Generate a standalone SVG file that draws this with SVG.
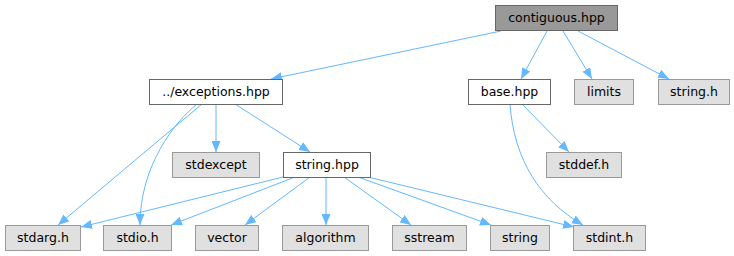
<svg xmlns="http://www.w3.org/2000/svg" width="734" height="256" viewBox="0 0 734 256">
<defs>
<style>
.n rect{stroke-width:1}
.root rect{fill:#999999;stroke:#666666}
.loc rect{fill:#ffffff;stroke:#666666}
.ext rect{fill:#e0e0e0;stroke:#999999}
text{font-family:"DejaVu Sans",sans-serif;font-size:12.5px;fill:#000000;text-anchor:middle}
.e path{fill:none;stroke:#63b8ff;stroke-width:1;marker-end:url(#ah)}
</style>
<marker id="ah" markerUnits="userSpaceOnUse" markerWidth="12" markerHeight="9" refX="11" refY="4.5" orient="auto">
<path d="M0,0 L11,4.5 L0,9 z" fill="#63b8ff" stroke="none"/>
</marker>
</defs>
<rect width="734" height="256" fill="#ffffff"/>
<g id="edges" class="e">
<path d="M501,31 L271,79"/>
<path d="M547,31 L521,79"/>
<path d="M563,31 L592,79"/>
<path d="M578,31 L669,79"/>
<path d="M202,104 L58,225"/>
<path d="M197,104 C175,122 140,165 140,225"/>
<path d="M216,104 L216,152"/>
<path d="M235,104 L310,152"/>
<path d="M522,104 L569,152"/>
<path d="M510,104 C514,160 540,200 583,225"/>
<path d="M283,177 L81,227"/>
<path d="M295,177 L171,225"/>
<path d="M310,177 L245,225"/>
<path d="M326,177 L326,225"/>
<path d="M344,177 L411,225"/>
<path d="M358,177 L491,225"/>
<path d="M368,177 L574,227"/>
</g>
<g id="contiguous" class="n root"><rect x="495.5" y="5.5" width="122" height="25"/><text x="556.5" y="22">contiguous.hpp</text></g>
<g id="exceptions" class="n loc"><rect x="149.5" y="79.5" width="133" height="25"/><text x="216" y="96">../exceptions.hpp</text></g>
<g id="base" class="n loc"><rect x="468.5" y="79.5" width="82" height="25"/><text x="509.5" y="96">base.hpp</text></g>
<g id="limits" class="n ext"><rect x="574.5" y="79.5" width="59" height="25"/><text x="604" y="96">limits</text></g>
<g id="string_h" class="n ext"><rect x="658.5" y="79.5" width="71" height="25"/><text x="694" y="96">string.h</text></g>
<g id="stdexcept" class="n ext"><rect x="172.5" y="152.5" width="87" height="25"/><text x="216" y="169">stdexcept</text></g>
<g id="string_hpp" class="n loc"><rect x="283.5" y="152.5" width="87" height="25"/><text x="327" y="169">string.hpp</text></g>
<g id="stddef" class="n ext"><rect x="546.5" y="152.5" width="75" height="25"/><text x="584" y="169">stddef.h</text></g>
<g id="stdarg" class="n ext"><rect x="5.5" y="225.5" width="75" height="25"/><text x="43" y="242">stdarg.h</text></g>
<g id="stdio" class="n ext"><rect x="103.5" y="225.5" width="68" height="25"/><text x="137.5" y="242">stdio.h</text></g>
<g id="vector" class="n ext"><rect x="195.5" y="225.5" width="63" height="25"/><text x="227" y="242">vector</text></g>
<g id="algorithm" class="n ext"><rect x="282.5" y="225.5" width="86" height="25"/><text x="325.5" y="242">algorithm</text></g>
<g id="sstream" class="n ext"><rect x="392.5" y="225.5" width="74" height="25"/><text x="429.5" y="242">sstream</text></g>
<g id="string" class="n ext"><rect x="490.5" y="225.5" width="59" height="25"/><text x="520" y="242">string</text></g>
<g id="stdint" class="n ext"><rect x="573.5" y="225.5" width="72" height="25"/><text x="609.5" y="242">stdint.h</text></g>
</svg>
